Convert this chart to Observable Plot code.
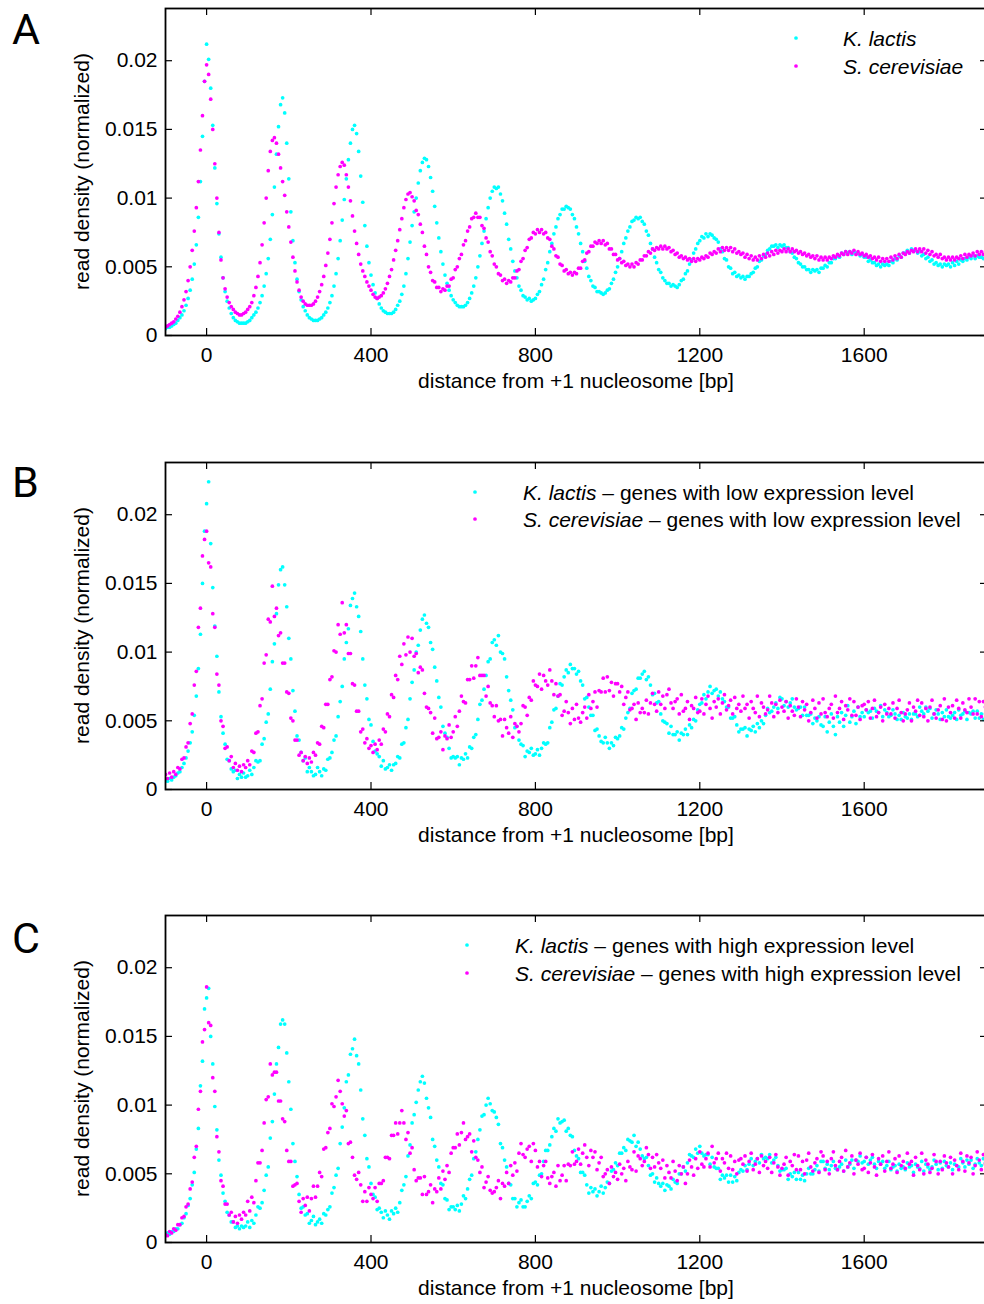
<!DOCTYPE html>
<html><head><meta charset="utf-8">
<script src="https://cdn.jsdelivr.net/npm/d3@7"></script>
<script src="https://cdn.jsdelivr.net/npm/@observablehq/plot@0.6"></script>
<style>
html,body{margin:0;padding:0;background:#fff;overflow:hidden;}
#wrap{position:relative;width:990px;height:1304px;overflow:hidden;background:#fff;}
</style></head><body>
<div id="wrap"></div>
<script>
// positions: -100 bp .. 1900 bp, every 5 bp; values in units of 1e-4 (read density)
const bpStart = -100, bpStep = 5;
const xTicks = [0, 400, 800, 1200, 1600];
const yTicks = [0, 0.005, 0.01, 0.015, 0.02];

// Panel A
const klA = [
5,6,6,7,8,9,11,13,15,18,22,27,33,41,52,66,86,112,145,185,
212,201,180,153,122,96,74,57,42,32,25,20,16,13,11,10,9,9,9,9,
10,11,13,15,17,20,24,29,36,45,56,70,88,108,132,152,168,173,162,140,
114,90,69,53,41,32,26,21,18,15,13,12,11,11,11,12,13,15,17,20,
24,29,36,45,56,69,84,99,114,128,140,150,153,147,134,116,97,80,65,53,
44,37,31,27,23,20,18,17,16,16,16,17,19,22,25,30,36,45,56,68,
80,90,100,111,120,126,129,128,123,115,105,94,82,71,61,52,44,38,33,29,
26,24,22,21,21,21,22,24,27,31,36,42,50,58,67,76,85,93,100,105,
108,107,108,103,98,89,81,70,63,54,47,42,36,33,29,28,26,27,25,26,
27,30,32,37,41,48,53,61,67,74,79,85,88,92,92,94,93,92,88,85,
79,74,67,61,54,49,43,40,36,35,32,32,31,30,31,33,34,38,41,46,
50,56,61,67,71,76,79,83,84,86,85,86,83,81,76,73,67,63,57,53,
48,46,42,40,38,38,36,37,36,35,37,40,41,45,47,52,55,60,63,67,
69,72,71,74,72,74,73,71,70,68,63,61,56,55,50,49,45,46,43,44,
42,43,41,43,43,45,46,49,50,54,55,58,59,62,63,65,65,66,64,66,
65,66,64,64,61,60,57,56,53,52,50,50,48,48,46,48,47,48,46,49,
49,51,50,53,53,56,56,58,57,60,59,61,60,61,59,61,60,60,58,59,
57,57,54,55,53,53,51,52,50,52,51,52,51,54,53,56,55,58,57,60,
60,62,60,63,62,62,60,61,58,59,56,57,54,55,52,53,51,52,50,52,
51,52,50,53,51,54,52,55,54,56,55,57,56,58,56,58,57,57,56,58,57];
const scA = [
6,7,8,9,10,12,14,17,21,26,32,40,50,62,76,93,112,135,160,185,
197,190,172,150,125,100,75,55,42,34,28,24,21,19,17,16,15,15,16,17,
19,21,24,29,35,43,53,66,82,100,120,134,142,144,140,132,122,112,102,90,
79,68,57,47,39,33,28,25,23,22,22,22,23,25,28,32,37,43,51,60,
70,82,96,108,117,123,126,124,117,108,98,87,76,67,59,52,47,43,39,36,
33,30,28,27,28,29,31,34,38,43,48,55,62,69,77,85,93,99,103,104,
101,98,91,88,81,75,65,59,50,46,40,39,35,35,32,34,33,36,36,41,
42,48,50,56,59,66,69,76,79,85,86,89,86,86,80,78,71,68,61,58,
52,50,45,44,40,41,38,40,39,42,42,47,48,54,56,62,64,70,71,75,
74,77,75,77,74,75,71,70,65,63,58,57,52,51,47,48,45,46,44,46,
45,49,49,54,55,60,61,65,65,68,67,69,67,69,66,67,63,63,59,59,
55,56,53,54,51,52,50,52,50,53,52,55,55,58,58,61,60,63,62,64,
63,65,63,65,63,64,61,62,59,60,57,58,56,57,55,56,54,56,54,56,
55,57,56,58,57,60,59,61,60,63,61,64,62,64,62,64,61,63,60,61,
59,60,57,59,56,58,55,57,55,58,56,59,57,60,58,61,59,62,60,62,
61,63,61,63,61,63,61,62,60,61,59,60,58,59,57,58,56,58,55,57,
55,57,55,57,56,58,57,59,58,60,59,61,59,61,60,62,59,61,59,60,
58,59,57,58,56,57,55,57,54,56,54,56,54,57,55,58,56,59,57,60,
59,61,60,62,61,63,61,63,61,63,60,62,59,61,58,59,57,59,56,57,
55,57,55,57,55,57,56,58,56,59,57,59,58,60,58,61,59,61,59,61,60];

// Panel B (low expression)
const klB = [
7,6,8,7,9,10,12,13,16,19,23,28,34,42,54,68,88,113,150,188,
208,224,179,147,119,97,71,53,41,33,22,21,15,13,14,8,11,9,12,9,
10,14,11,16,21,20,21,33,37,49,55,73,93,106,128,149,160,162,149,133,
110,95,72,57,39,36,27,21,23,13,16,13,10,11,16,13,10,15,14,22,
23,27,36,39,53,64,75,95,107,117,134,139,143,133,126,115,95,76,66,51,
47,35,28,26,24,17,21,15,16,18,14,18,19,24,23,33,34,45,51,66,
78,87,100,105,116,124,127,121,118,107,102,89,79,67,60,46,41,38,30,23,
24,23,24,18,23,22,26,23,31,30,38,40,51,62,65,73,83,93,95,107,
109,105,112,100,99,95,82,72,65,58,45,46,36,33,32,24,28,27,30,25,
26,29,25,30,34,33,34,45,49,58,59,68,77,76,82,87,85,91,88,88,
84,86,79,76,66,67,60,54,54,43,44,39,35,34,38,34,30,34,32,38,
37,39,45,44,52,56,59,70,72,73,81,81,84,86,80,82,76,69,70,63,
64,55,50,49,48,41,46,40,40,42,36,41,40,44,40,47,45,51,50,58,
62,63,69,66,71,75,70,72,73,68,71,66,64,60,60,52,52,53,47,42,
44,44,45,39,44,43,46,42,48,45,50,48,54,59,56,57,60,63,59,67,
66,61,64,60,63,66,60,58,59,60,54,60,54,54,55,48,52,50,53,47,
46,53,42,49,55,46,40,53,49,56,46,54,61,49,53,57,48,60,53,56,
53,58,56,57,52,59,57,56,61,53,58,56,53,54,58,55,51,54,51,56,
53,52,55,51,55,55,53,60,57,55,60,57,59,52,55,58,55,51,56,53,
58,53,52,54,56,51,58,54,55,57,51,56,55,57,52,57,52,55,51,55,54];
const scB = [
11,8,12,9,13,11,16,15,22,23,31,34,48,55,76,86,118,132,170,182,
188,165,162,128,118,84,76,50,46,30,31,21,24,16,19,14,17,13,18,16,
21,18,28,27,41,42,61,66,92,98,124,122,148,126,132,112,114,92,92,71,
70,52,50,36,36,25,27,21,24,19,23,20,27,25,34,33,46,45,62,62,
80,82,101,100,120,113,136,114,120,99,99,77,76,57,57,42,44,34,37,30,
32,27,33,29,36,33,44,42,55,53,69,67,83,80,97,91,106,98,111,100,
110,97,99,85,89,87,70,60,59,56,41,52,37,38,42,29,39,37,47,38,
42,53,46,57,68,64,63,80,80,90,81,90,96,83,83,83,68,75,63,61,
53,61,50,51,39,51,45,41,53,38,48,46,42,48,61,60,54,67,65,79,
76,75,84,73,83,79,76,87,79,69,77,68,69,54,57,64,56,48,59,51,
62,52,49,56,60,52,69,59,64,71,60,72,71,81,71,82,72,78,68,77,
77,71,75,62,67,71,58,59,62,51,63,56,59,56,65,55,63,70,62,57,
71,62,68,59,69,73,63,59,64,66,55,69,57,59,64,51,61,59,67,56,
57,66,55,62,68,59,52,64,60,66,55,63,69,58,61,65,55,67,59,62,
57,68,59,62,52,64,59,56,68,53,63,60,55,58,68,63,53,62,56,65,
60,57,64,52,61,57,54,66,60,53,64,58,62,50,56,65,59,52,63,55,
66,56,53,59,62,52,68,56,59,64,51,61,58,66,54,64,54,60,51,61,
62,58,64,52,59,65,53,56,60,50,62,55,59,55,63,52,59,65,56,50,
55,58,63,50,60,57,65,54,63,53,59,50,60,65,55,52,58,61,51,66,
50,60,56,61,52,65,59,52,63,58,56,66,60,55,66,55,64,53,64,60,68];

// Panel C (high expression)
const klC = [
5,7,6,8,8,10,10,13,14,18,21,27,32,42,51,68,83,114,132,170,
178,185,150,130,99,82,60,49,36,30,22,20,15,15,11,12,10,12,11,12,
15,11,16,14,20,26,25,29,38,49,55,76,88,108,130,142,159,162,159,138,
117,97,72,59,48,35,25,26,20,21,14,16,19,13,15,17,14,21,20,24,
26,36,40,49,54,72,84,98,117,122,137,141,148,136,130,111,90,78,61,55,
43,35,33,24,25,22,18,23,20,17,23,21,25,22,29,38,42,48,63,71,
87,93,102,111,117,121,116,105,98,91,75,70,60,55,43,42,32,31,24,26,
26,24,27,23,28,34,32,39,46,49,61,66,75,82,92,93,100,105,101,96,
95,91,86,72,69,60,55,43,42,32,32,26,29,31,26,26,30,34,32,43,
44,42,49,50,59,67,67,71,77,83,81,90,87,88,89,81,83,78,77,67,
63,61,51,51,49,42,36,40,37,39,34,37,41,36,40,44,43,52,53,58,
56,65,65,69,67,75,74,73,78,70,73,68,63,61,62,56,49,50,44,47,
43,41,43,38,42,41,39,46,44,43,50,50,55,52,58,64,63,62,68,65,
70,65,63,64,64,57,62,55,54,54,46,49,47,49,44,49,44,48,45,51,
53,52,56,53,57,61,56,59,61,58,64,61,62,61,64,58,60,62,56,52,
53,53,54,46,50,48,51,46,51,46,49,45,50,54,50,50,53,56,52,59,
59,54,57,53,56,59,54,53,55,57,52,60,55,57,60,54,60,59,63,58,
59,62,57,60,62,57,54,59,57,59,54,56,59,53,55,56,52,57,54,55,
53,58,55,56,51,57,55,54,59,52,57,55,53,55,60,57,53,58,54,59,
56,55,58,53,57,56,55,61,58,55,60,57,60,54,57,61,58,56,61,58,61];
const scC = [
6,5,8,7,10,9,13,13,18,19,26,28,39,44,62,70,97,110,146,155,
186,160,158,120,110,77,66,45,41,28,28,20,22,15,19,14,20,17,22,20,
30,23,33,29,45,58,58,67,87,104,106,130,122,124,124,103,103,90,88,67,
59,59,41,42,43,30,22,32,27,33,23,32,41,33,41,51,48,68,69,80,
83,101,99,106,118,110,101,92,96,72,73,62,49,46,51,42,30,37,30,40,
35,32,40,30,43,43,45,62,62,61,78,78,87,79,87,96,87,75,80,65,
69,53,45,47,47,35,48,35,37,42,29,39,37,47,39,52,46,56,51,65,
69,69,79,71,80,87,75,77,79,66,74,62,60,51,55,40,44,48,38,36,
37,40,45,32,43,41,51,43,56,49,58,52,65,72,64,62,68,70,59,72,
67,55,59,48,56,59,47,43,48,51,41,56,45,49,56,45,57,56,66,57,
59,68,57,65,71,62,56,67,62,66,53,58,62,48,50,53,43,55,48,51,
46,57,50,54,45,59,55,53,66,52,63,61,56,59,69,64,54,62,55,64,
58,54,60,47,56,51,47,59,52,45,56,50,55,43,50,60,55,49,61,54,
66,57,55,61,65,55,70,58,61,65,52,61,58,65,54,63,53,59,50,60,
61,57,63,52,59,65,53,57,61,51,63,56,59,54,62,51,58,64,55,49,
54,57,62,49,59,56,64,53,63,53,59,50,60,65,55,52,58,61,51,66,
63,53,59,50,61,66,56,53,59,62,52,67,55,58,63,50,60,57,65,53,
54,62,51,58,64,55,49,61,57,63,52,59,66,54,57,61,51,63,56,59,
54,65,57,59,49,62,56,53,65,50,60,57,51,54,64,59,50,59,53,63,
58,55,62,50,60,56,53,65,59,52,63,58,62,50,56,66,60,53,64,57,62];

const CYAN = "#00ffff", MAGENTA = "#ff00ff";
const FONT = "'Liberation Sans', Arial, Helvetica, sans-serif";

const panels = [
  {letter: "A", kl: klA, sc: scA, top: 0,
   legend: {dotX: 796, textX: 843, y1: 46, y2: 74,
            kl: ["K. lactis", ""], sc: ["S. cerevisiae", ""]}},
  {letter: "B", kl: klB, sc: scB, top: 454,
   legend: {dotX: 475, textX: 523, y1: 500, y2: 527,
            kl: ["K. lactis", " – genes with low expression level"],
            sc: ["S. cerevisiae", " – genes with low expression level"]}},
  {letter: "C", kl: klC, sc: scC, top: 907,
   legend: {dotX: 467, textX: 515, y1: 953, y2: 981,
            kl: ["K. lactis", " – genes with high expression level"],
            sc: ["S. cerevisiae", " – genes with high expression level"]}}
];

const W = 990, H = 400, ML = 165, MR = 3, MT = 8, MB = 65;
const innerW = W - ML - MR, innerH = H - MT - MB;
const toRows = (arr) => arr.map((v, i) => ({x: bpStart + bpStep * i, y: v / 10000}));
const DOT_R = 1.85;

const wrap = document.getElementById("wrap");
for (const p of panels) {
  const chart = Plot.plot({
    width: W, height: H, marginLeft: ML, marginRight: MR, marginTop: MT, marginBottom: MB,
    x: {domain: [-100, 1900]},
    y: {domain: [0, 0.0238]},
    style: {fontFamily: FONT, fontSize: "21px", color: "#000", background: "transparent", overflow: "visible", maxWidth: "none"},
    marks: [
      Plot.dot(toRows(p.kl), {x: "x", y: "y", r: DOT_R, fill: CYAN, clip: true}),
      Plot.dot(toRows(p.sc), {x: "x", y: "y", r: DOT_R, fill: MAGENTA, clip: true}),
      Plot.tickX(xTicks, {x: d => d, insetTop: innerH - 7, stroke: "#000", strokeWidth: 1.2}),
      Plot.tickX(xTicks, {x: d => d, insetBottom: innerH - 7, stroke: "#000", strokeWidth: 1.2}),
      Plot.tickY(yTicks, {y: d => d, insetRight: innerW - 7, stroke: "#000", strokeWidth: 1.2}),
      Plot.tickY(yTicks, {y: d => d, insetLeft: innerW - 7, stroke: "#000", strokeWidth: 1.2}),
      Plot.frame({stroke: "#000", strokeWidth: 1.8}),
      Plot.axisX({ticks: xTicks, anchor: "bottom", tickSize: 0, tickPadding: 12, fontSize: 21, label: null, tickFormat: d => String(d)}),
      Plot.axisY({ticks: yTicks, anchor: "left", tickSize: 0, tickPadding: 8, fontSize: 21, label: null, tickFormat: d => d === 0 ? "0" : String(d)})
    ]
  });
  chart.style.position = "absolute";
  chart.style.left = "0px";
  chart.style.top = p.top + "px";
  wrap.appendChild(chart);
}

// overlay with panel letters, axis titles and legends
const svg = d3.select(wrap).append("svg")
  .attr("width", 984).attr("height", 1304)
  .style("position", "absolute").style("left", "0px").style("top", "0px")
  .attr("font-family", FONT).attr("font-size", 21).attr("fill", "#000");

const letterY = {A: 44, B: 497, C: 953};
for (const p of panels) {
  svg.append("text").attr("x", 12).attr("y", letterY[p.letter])
    .attr("font-family", "Roboto, 'Open Sans', sans-serif").attr("font-size", 43)
    .text(p.letter);
  const midY = p.top + MT + innerH / 2;
  svg.append("text").attr("transform", `translate(89,${midY}) rotate(-90)`)
    .attr("text-anchor", "middle").text("read density (normalized)");
  svg.append("text").attr("x", ML + innerW / 2).attr("y", p.top + 388)
    .attr("text-anchor", "middle").text("distance from +1 nucleosome [bp]");
  const L = p.legend;
  const items = [[CYAN, L.y1, L.kl], [MAGENTA, L.y2, L.sc]];
  for (const [col, y, parts] of items) {
    svg.append("circle").attr("cx", L.dotX).attr("cy", y - 8).attr("r", DOT_R).attr("fill", col);
    const t = svg.append("text").attr("x", L.textX).attr("y", y);
    t.append("tspan").attr("font-style", "italic").text(parts[0]);
    if (parts[1]) t.append("tspan").text(parts[1]);
  }
}
</script>
</body></html>
